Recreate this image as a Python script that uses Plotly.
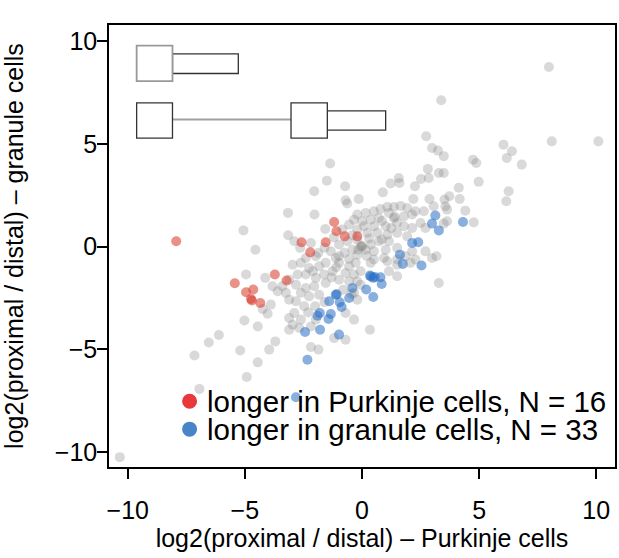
import plotly.graph_objects as go

# ---- data (log2 proximal/distal ratios) ----
gray_x = [7.98, 3.38, 2.74, 8.10, 10.09, 2.99, 3.24, 3.49, 6.04, 6.40, 6.18, 6.82, 4.74, 4.88, -1.36,
          2.81, 3.28, 3.49, 2.52, 2.85, 1.57, 1.60, 1.22, 0.89, 2.26, 4.13, 4.98, 6.26, 6.16, 2.19,
          2.88, 3.52, 3.73, 4.17, 4.41, 3.56, 3.63, 4.77,
          -1.50, -0.72, -2.04, -0.70, -0.63, -3.16, -2.03, -5.06, -3.15, -1.57, -2.89, -2.18, -4.55,
          -1.87, -2.64, -1.33, -0.55, -0.34, -0.62, -0.41, -0.98, -0.98, -0.20, -0.16, -0.41, -0.84,
          -1.12, -1.97, -2.40, -0.75, -1.20, -1.60, -0.55,
          -0.14, 0.51, 0.16, -0.20, 0.01, 0.37, 0.72, 0.79, 1.08, 1.36, 1.65, 1.93, 2.28, 2.64, 3.06,
          3.63, 3.49, 1.15, 1.36, 1.40, 1.50, 1.79, 2.14, 2.50, 2.71, 2.14, 1.79, 1.01, 0.51, 0.09,
          -0.20, 0.23, 0.65, 1.08, 1.50, 1.93, 0.72, 1.15, 0.37, 1.50, 1.01, 0.51, 0.16, -0.03, 0.00,
          -0.05, -0.20, 1.86, 2.28, 2.99, 3.18, 1.50, 0.94, 0.51, 2.71, 2.14, 0.30, 0.85, 0.20, 1.25,
          0.85,
          -2.96, -2.61, -2.26, -1.83, -1.55, -0.98, -0.55, -0.27, -1.26, -0.70, -0.34, -1.62, -1.97,
          -2.40, -2.75, -3.11, -4.95, -4.13, -3.82, -3.60, -3.40, -2.82, -2.40, -2.04, -1.55, -0.98,
          -0.55, -0.20, -1.83, -2.26, -2.61, -3.11, -3.25, -3.89, -4.24, -4.03, -5.02, -4.45, -2.82,
          -2.47, -2.89, -3.11, -2.61, -2.96, -2.68, -3.11, -2.18, -1.97, -0.70, -0.34, -0.70, -1.19,
          -3.70, -3.96, -2.18, -1.86, -1.30, -2.10, -0.80, -1.60, -2.30, -1.10, -2.00, -0.45,
          0.37, -0.06, 1.08, 1.50, 2.07, 1.50, 1.15, 3.28, -0.06, -0.20, 0.34, -0.34,
          -6.11, -6.54, -7.15, -5.20, -4.92, -6.94, -10.34, -4.45]
gray_y = [8.74, 7.12, 5.37, 5.12, 5.12, 4.80, 4.67, 4.40, 4.96, 4.64, 4.31, 3.99, 4.23, 4.07, 4.04,
          3.78, 3.58, 3.58, 3.29, 3.34, 3.34, 3.10, 3.07, 2.64, 2.94, 2.86, 3.15, 2.69, 2.21, 2.32,
          2.32, 2.29, 2.45, 2.32, 1.75, 1.96, 1.80, 1.18,
          3.21, 2.94, 2.69, 2.25, 2.10, 1.64, 1.56, 0.79, 0.55, 0.86, 0.26, 0.18, -0.15,
          -0.31, -0.06, -0.23, 1.07, 1.31, 0.26, -0.15, -0.47, 0.10, 0.34, -0.15, 0.55, 0.83,
          -0.55, -0.47, -0.55, -0.30, 0.45, -0.05, -0.60,
          2.32, 1.72, 1.64, 1.56, 1.23, 1.31, 1.39, 1.83, 1.93, 1.93, 1.98, 1.88, 1.72, 1.72, 1.96,
          1.23, 1.12, 1.64, 1.39, 1.45, 1.15, 1.47, 1.56, 1.15, 0.91, 0.91, 0.99, 0.99, 0.99, 0.99,
          0.83, 0.67, 0.67, 0.58, 0.67, 0.50, 0.26, 0.26, 0.10, -0.06, -0.15, -0.23, -0.15, -0.02, 0.02,
          0.04, -0.39, -0.47, -0.63, -0.55, -0.47, -0.63, -0.55, -0.63, -0.23, -0.23, 0.40, 0.35, -0.45, 0.90,
          1.25,
          -0.88, -0.79, -1.04, -0.96, -0.79, -0.79, -0.96, -0.79, -1.20, -1.28, -1.36, -1.36, -1.52,
          -1.36, -1.36, -1.61, -1.36, -1.52, -1.93, -2.17, -1.93, -1.85, -2.01, -1.93, -1.77, -1.61,
          -1.69, -1.69, -2.34, -2.42, -2.25, -2.58, -2.25, -2.82, -3.04, -3.26, -3.59, -3.88, -2.66,
          -2.90, -3.23, -3.47, -3.55, -3.80, -3.96, -4.04, -3.88, -3.55, -3.23, -3.55, -4.53, -4.45,
          -4.61, -5.01, -4.88, -5.01, -1.50, -1.20, -2.10, -2.70, -3.20, -1.00, -2.90, -2.30,
          -0.79, -1.20, -0.71, -0.88, -0.79, -1.44, -1.20, -1.77, -1.85, -2.58, -4.04, -2.25,
          -4.30, -4.66, -5.30, -5.05, -6.34, -6.92, -10.24, -5.63]

red_x = [-7.93, -1.19, -1.09, -0.74, -0.20, -2.58, -1.55, -2.21, -3.72, -3.22, -5.43, -4.95, -4.64,
         -4.74, -4.34, -4.70]
red_y = [0.26, 1.20, 0.75, 0.50, 0.50, 0.21, 0.21, -0.28, -1.36, -1.65, -1.78, -2.22, -2.09,
         -2.55, -2.74, -2.62]

blue_x = [3.13, 2.99, 3.28, 4.31, 2.14, 2.40, 1.62, 1.74, 2.54, 0.34, 0.48, 0.79, 0.84, -0.41, 0.18,
          0.48, -1.12, -1.40, -0.95, -0.87, -0.55, -1.80, -1.90, -1.33, -1.43, -2.43, -1.79, -0.98,
          -2.33, -2.82, 0.38, -1.08, 0.55]
blue_y = [1.51, 1.12, 0.79, 1.20, 0.18, 0.21, -0.39, -0.84, -0.92, -1.41, -1.52, -1.49, -1.82, -2.01,
          -2.09, -2.45, -2.34, -2.66, -2.71, -2.94, -2.50, -3.23, -3.36, -3.28, -3.52, -4.15, -4.04,
          -4.28, -5.50, -7.33, -1.45, -2.32, -1.48]

ticks = [-10, -5, 0, 5, 10]
legend_labels = ["longer in Purkinje cells, N = 16", "longer in granule cells, N = 33"]
axis_titles = ["log2(proximal / distal) \u2013 Purkinje cells", "log2(proximal / distal) \u2013 granule cells"]

FONT = "Liberation Sans, Arial, Helvetica, sans-serif"

fig = go.Figure()
fig.add_trace(go.Scatter(x=gray_x, y=gray_y, mode="markers", showlegend=False,
                         marker=dict(size=10, color="rgba(130,130,130,0.3)", line=dict(width=0))))
fig.add_trace(go.Scatter(x=red_x, y=red_y, mode="markers", showlegend=False,
                         marker=dict(size=10, color="rgba(215,55,40,0.55)", line=dict(width=0))))
fig.add_trace(go.Scatter(x=blue_x, y=blue_y, mode="markers", showlegend=False,
                         marker=dict(size=10, color="rgba(40,110,195,0.55)", line=dict(width=0))))

shapes = []
dark = dict(color="#333333", width=1.3)
# gene model 1
shapes.append(dict(type="rect", x0=-8.09, x1=-5.28, y0=8.42, y1=9.38, line=dark, fillcolor="white"))
shapes.append(dict(type="rect", x0=-9.62, x1=-8.09, y0=8.05, y1=9.78,
                   line=dict(color="#999999", width=1.8), fillcolor="white"))
# gene model 2
shapes.append(dict(type="line", x0=-8.09, x1=-3.03, y0=6.18, y1=6.18, line=dict(color="#a0a0a0", width=2)))
shapes.append(dict(type="rect", x0=-9.62, x1=-8.09, y0=5.28, y1=6.99, line=dark, fillcolor="white"))
shapes.append(dict(type="rect", x0=-1.48, x1=1.01, y0=5.67, y1=6.60, line=dark, fillcolor="white"))
shapes.append(dict(type="rect", x0=-3.03, x1=-1.48, y0=5.28, y1=6.99, line=dark, fillcolor="white"))

# legend dots + text
leg_colors = ["rgb(232,56,58)", "rgb(72,133,200)"]
leg_y = [-7.52, -8.88]
annotations = []
for lab, col, ly in zip(legend_labels, leg_colors, leg_y):
    shapes.append(dict(type="circle", xref="x", yref="y", xsizemode="pixel", ysizemode="pixel",
                       xanchor=-7.36, yanchor=ly, x0=-7.5, x1=7.5, y0=-7.5, y1=7.5,
                       fillcolor=col, line=dict(width=0)))
    annotations.append(dict(x=-6.72, y=ly, xref="x", yref="y", text=lab, showarrow=False,
                            xanchor="left", yanchor="middle",
                            font=dict(size=29.5, color="black", family=FONT)))

axis_common = dict(tickvals=ticks, ticks="outside", ticklen=10, tickwidth=1.5, tickcolor="black",
                   showline=True, mirror=True, linecolor="black", linewidth=1.5,
                   showgrid=False, zeroline=False,
                   tickfont=dict(size=25, color="black", family=FONT))

fig.update_layout(
    width=619, height=558,
    margin=dict(l=109, r=2, t=25, b=91),
    paper_bgcolor="white", plot_bgcolor="white",
    font=dict(family=FONT, color="black"),
    shapes=shapes, annotations=annotations,
    xaxis=dict(range=[-10.8, 10.8], ticklabelstandoff=10,
               title=dict(text=axis_titles[0], font=dict(size=25), standoff=4),
               **axis_common),
    yaxis=dict(range=[-10.72, 10.78], ticklabelstandoff=-5,
               title=dict(text=axis_titles[1], font=dict(size=25), standoff=33),
               **axis_common),
)

fig.write_html("out.html")
